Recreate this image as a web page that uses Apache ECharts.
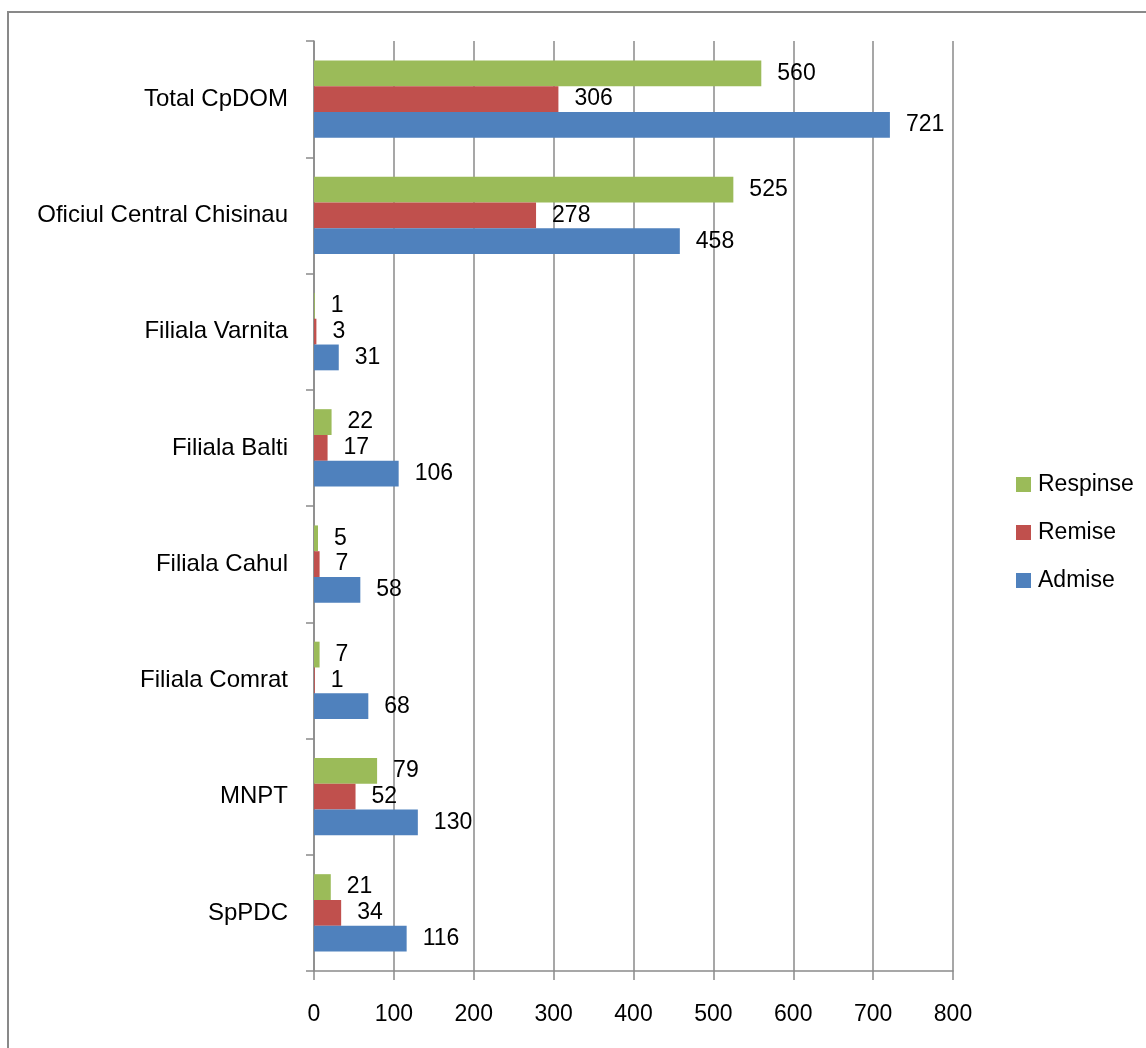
<!DOCTYPE html>
<html>
<head>
<meta charset="utf-8">
<script src="https://cdn.jsdelivr.net/npm/echarts@6/dist/echarts.min.js"></script>
<style>
html,body{margin:0;padding:0;background:#fff;}
#chart{width:1146px;height:1048px;}
</style>
</head>
<body>
<div id="chart"></div>
<script>
const categories = ['Total CpDOM', 'Oficiul Central Chisinau', 'Filiala Varnita', 'Filiala Balti', 'Filiala Cahul', 'Filiala Comrat', 'MNPT', 'SpPDC'];
const respinse = [560, 525, 1, 22, 5, 7, 79, 21];
const remise = [306, 278, 3, 17, 7, 1, 52, 34];
const admise = [721, 458, 31, 106, 58, 68, 130, 116];
const xTicks = { min: 0, max: 800, interval: 100 };

const FONT = 'Liberation Sans';
const FS = 23;
const gridColor = '#8a8a8a';

function mkSeries(name, data, color) {
  return {
    name: name,
    type: 'bar',
    data: data,
    barWidth: 25.8,
    barGap: '0%',
    itemStyle: { color: color },
    label: {
      show: true,
      position: 'right',
      distance: 16,
      color: '#000',
      fontFamily: FONT,
      fontSize: FS
    }
  };
}

const chart = echarts.init(document.getElementById('chart'), null, { renderer: 'canvas' });
chart.setOption({
  animation: false,
  backgroundColor: '#fff',
  graphic: [{
    type: 'rect',
    shape: { x: 8, y: 12, width: 1300, height: 1200 },
    style: { fill: 'none', stroke: '#898989', lineWidth: 2 },
    silent: true,
    z: -1
  }],
  grid: { left: 314, top: 41, right: 193, bottom: 77, containLabel: false },
  legend: {
    orient: 'vertical',
    left: 1011,
    top: 468,
    itemWidth: 15,
    itemHeight: 15,
    itemGap: 25,
    icon: 'rect',
    data: ['Respinse', 'Remise', 'Admise'],
    textStyle: { fontFamily: FONT, fontSize: FS, color: '#000', padding: [0, 0, 0, 2] }
  },
  xAxis: {
    type: 'value',
    min: xTicks.min,
    max: xTicks.max,
    interval: xTicks.interval,
    axisLine: { show: true, lineStyle: { color: gridColor, width: 1.5 } },
    axisTick: { show: true, length: 9, lineStyle: { color: gridColor, width: 1.5 } },
    axisLabel: { margin: 32, color: '#000', fontFamily: FONT, fontSize: FS },
    splitLine: { show: true, lineStyle: { color: gridColor, width: 1.5 } }
  },
  yAxis: {
    type: 'category',
    inverse: true,
    data: categories,
    axisLine: { show: true, lineStyle: { color: gridColor, width: 1.5 } },
    axisTick: { show: true, length: 8, lineStyle: { color: gridColor, width: 1.5 } },
    axisLabel: { margin: 26, color: '#000', fontFamily: FONT, fontSize: 24 }
  },
  series: [
    mkSeries('Respinse', respinse, '#9BBB59'),
    mkSeries('Remise', remise, '#C0504D'),
    mkSeries('Admise', admise, '#4F81BD')
  ]
});
</script>
</body>
</html>
